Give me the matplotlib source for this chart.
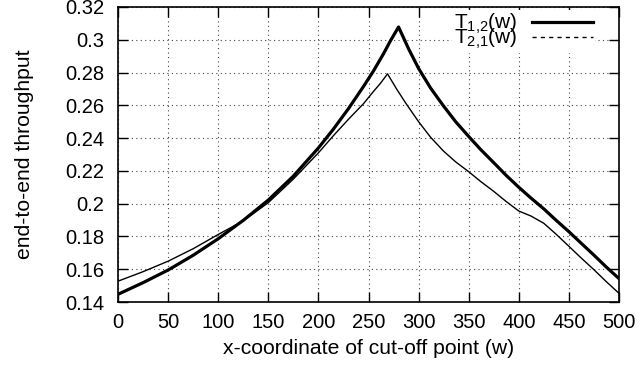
import matplotlib
matplotlib.use("Agg")
import matplotlib.pyplot as plt
from matplotlib.lines import Line2D

plt.rcParams['font.family'] = ['Liberation Sans', 'DejaVu Sans']
plt.rcParams['mathtext.default'] = 'regular'

# T_{1,2}(w) (thick)
x12 = [0, 25, 50, 75, 100, 125, 150, 175, 200, 215, 230, 245, 255, 265, 272, 280,
       290, 300, 312, 325, 337, 350, 362, 375, 387, 400, 412, 425, 437, 450, 462, 475, 487, 500]
t12 = [0.1447, 0.1518, 0.1595, 0.1685, 0.1786, 0.1898, 0.2022, 0.2168, 0.2340, 0.2455,
       0.2580, 0.2715, 0.2810, 0.2915, 0.2995, 0.3078,
       0.2945, 0.2825, 0.2705, 0.2595, 0.2500, 0.2410, 0.2330, 0.2250, 0.2175, 0.2100,
       0.2035, 0.1968, 0.1900, 0.1829, 0.1760, 0.1686, 0.1615, 0.1543]

# T_{2,1}(w) (thin)
x21 = [0, 25, 50, 75, 100, 125, 150, 175, 200, 215, 230, 245, 255, 262, 269,
       278, 287, 300, 312, 325, 337, 350, 362, 375, 387, 400, 412, 425, 437, 450, 462, 475, 487, 500]
t21 = [0.1527, 0.1585, 0.1649, 0.1725, 0.1812, 0.1895, 0.2006, 0.2150, 0.2310, 0.2415,
       0.2515, 0.2610, 0.2685, 0.2735, 0.2792,
       0.2700, 0.2615, 0.2500, 0.2405, 0.2320, 0.2255, 0.2195, 0.2135, 0.2075, 0.2015,
       0.1955, 0.1925, 0.1880, 0.1815, 0.1740, 0.1670, 0.1597, 0.1526, 0.1453]

xticks = [0, 50, 100, 150, 200, 250, 300, 350, 400, 450, 500]
yticks = [0.14, 0.16, 0.18, 0.2, 0.22, 0.24, 0.26, 0.28, 0.3, 0.32]
ytick_labels = ['0.14', '0.16', '0.18', '0.2', '0.22', '0.24', '0.26', '0.28', '0.3', '0.32']

labels = ['T$_{1{,}2}$(w)', 'T$_{2{,}1}$(w)']

fig = plt.figure(figsize=(6.4, 3.76), dpi=100)
ax = fig.add_axes([118/640, 1 - 302/376, (619-118)/640, (302-7)/376])

ax.plot(x12, t12, color='black', lw=2.3, zorder=3)
ax.plot(x21, t21, color='black', lw=1.0, zorder=3)

ax.set_xlim(0, 500)
ax.set_ylim(0.14, 0.32)
ax.set_xticks(xticks)
ax.set_yticks(yticks)
ax.set_yticklabels(ytick_labels)
ax.tick_params(direction='in', length=7, width=1.0, top=True, right=True,
               labelsize=14.5, colors='black')
ax.tick_params(axis='x', pad=8)
ax.tick_params(axis='y', pad=10)
ax.grid(True, color='#444444', linestyle=(0, (1, 3)), lw=0.8)
for s in ax.spines.values():
    s.set_linewidth(1.2)

ax.set_xlabel('x-coordinate of cut-off point (w)', fontsize=15.2, labelpad=5)
ax.set_ylabel('end-to-end throughput', fontsize=15.2, labelpad=22)

handles = [Line2D([], [], color='black', lw=2.3),
           Line2D([], [], color='black', lw=1.0, linestyle=(0, (3, 3)))]
leg = ax.legend(handles, labels, loc='upper right', markerfirst=False,
                bbox_to_anchor=(0.952, 0.99), borderaxespad=0,
                fontsize=15, frameon=True, fancybox=False, framealpha=1,
                edgecolor='none', facecolor='white', handlelength=2.9,
                labelspacing=-0.44, borderpad=0.1, handletextpad=0.7)
leg.set_zorder(2)

fig.savefig('out.png', dpi=100)
